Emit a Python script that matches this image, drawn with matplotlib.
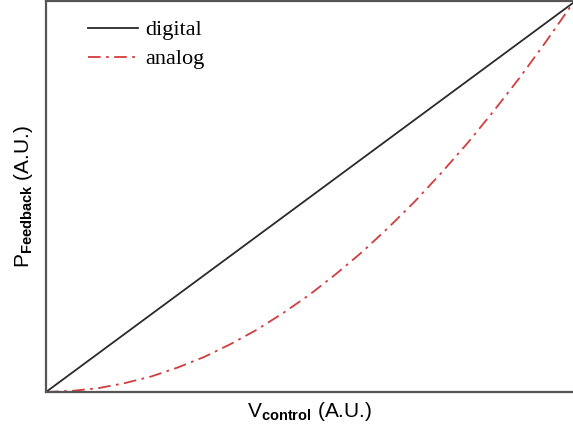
import matplotlib.pyplot as plt

plt.rcParams['mathtext.fontset'] = 'custom'
plt.rcParams['mathtext.rm'] = 'Liberation Sans'
plt.rcParams['mathtext.bf'] = 'Liberation Sans:bold'

# values (arbitrary units, 0..1)
v_control = [0.0, 0.05, 0.1, 0.15, 0.2, 0.25, 0.3, 0.35, 0.4, 0.45, 0.5,
             0.55, 0.6, 0.65, 0.7, 0.75, 0.8, 0.85, 0.9, 0.95, 1.0]
p_digital = [0.0, 0.05, 0.1, 0.15, 0.2, 0.25, 0.3, 0.35, 0.4, 0.45, 0.5,
             0.55, 0.6, 0.65, 0.7, 0.75, 0.8, 0.85, 0.9, 0.95, 1.0]
p_analog = [0.0, 0.003, 0.01, 0.023, 0.04, 0.063, 0.09, 0.123, 0.16, 0.203, 0.25,
            0.303, 0.36, 0.423, 0.49, 0.563, 0.64, 0.723, 0.81, 0.903, 1.0]

fig = plt.figure(figsize=(5.73, 4.29), dpi=100)
ax = fig.add_axes([46 / 573, 37 / 429, 527 / 573, 391 / 429])

ax.plot(v_control, p_digital, color='#2a2a2a', linewidth=1.3, label='digital')
ax.plot(v_control, p_analog, color='#d23c3c', linewidth=1.3,
        dashes=(7, 3, 1.5, 3), label='analog')

ax.set_xlim(0, 1)
ax.set_ylim(0, 1.005)
ax.set_xticks([])
ax.set_yticks([])
for side in ['left', 'bottom', 'top']:
    ax.spines[side].set_color('#555555')
    ax.spines[side].set_linewidth(1.6)
ax.spines['right'].set_visible(False)

ax.set_xlabel(r'V$_{\mathbf{control}}$ (A.U.)', fontsize=15, family='Liberation Sans',
              labelpad=6)
ax.set_ylabel(r'P$_{\mathbf{Feedback}}$ (A.U.)', fontsize=15, family='Liberation Sans',
              labelpad=8)

ax.legend(loc='upper left', bbox_to_anchor=(0.08, 0.952), frameon=False,
          borderaxespad=0, borderpad=0,
          prop={'family': 'Liberation Serif', 'size': 16}, handlelength=2.25,
          handletextpad=0.3, labelspacing=0.38)

plt.savefig('out.png', dpi=100)
